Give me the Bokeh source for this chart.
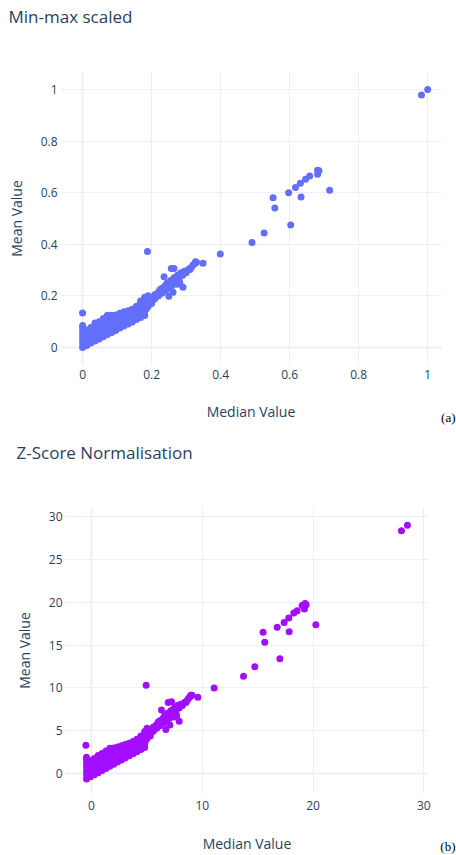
from bokeh.plotting import figure
from bokeh.models import Range1d, FixedTicker, Span, Title
from bokeh.embed import file_html
from bokeh.resources import INLINE

# ---------------- data: Min-max scaled ----------------
cluster_a_median = [
    0.0, 0.0, 0.0, 0.0, 0.0, 0.0, 0.0,
    0.012, 0.012, 0.012, 0.012, 0.012,
    0.024, 0.024, 0.024, 0.024, 0.024,
    0.036, 0.036, 0.036, 0.036, 0.036, 0.036,
    0.048, 0.048, 0.048, 0.048, 0.048, 0.048,
    0.060, 0.060, 0.060, 0.060, 0.060, 0.060,
    0.072, 0.072, 0.072, 0.072, 0.072, 0.072,
    0.084, 0.084, 0.084, 0.084, 0.084, 0.084,
    0.096, 0.096, 0.096, 0.096, 0.096,
    0.108, 0.108, 0.108, 0.108, 0.108,
    0.120, 0.120, 0.120, 0.120, 0.120,
    0.132, 0.132, 0.132, 0.132, 0.132,
    0.144, 0.144, 0.144, 0.144, 0.144,
    0.156, 0.156, 0.156, 0.156, 0.156,
    0.168, 0.168, 0.168, 0.168, 0.168, 0.168,
    0.180, 0.180, 0.180, 0.180, 0.180, 0.180,
]
cluster_a_mean = [
    0.000, 0.015, 0.030, 0.045, 0.060, 0.075, 0.085,
    0.008, 0.023, 0.038, 0.053, 0.068,
    0.017, 0.032, 0.047, 0.062, 0.077,
    0.025, 0.040, 0.055, 0.070, 0.085, 0.095,
    0.033, 0.048, 0.063, 0.078, 0.093, 0.100,
    0.041, 0.056, 0.071, 0.086, 0.101, 0.112,
    0.050, 0.065, 0.080, 0.095, 0.110, 0.125,
    0.058, 0.073, 0.088, 0.103, 0.118, 0.125,
    0.066, 0.081, 0.096, 0.111, 0.126,
    0.075, 0.090, 0.105, 0.120, 0.133,
    0.083, 0.098, 0.113, 0.128, 0.138,
    0.091, 0.106, 0.121, 0.136, 0.142,
    0.099, 0.114, 0.129, 0.144, 0.148,
    0.108, 0.123, 0.138, 0.153, 0.160,
    0.116, 0.131, 0.146, 0.161, 0.176, 0.180,
    0.124, 0.139, 0.154, 0.169, 0.184, 0.195,
]
streak_a_median = [
    0.19, 0.19, 0.2, 0.2, 0.205, 0.21, 0.21, 0.22, 0.22, 0.225,
    0.23, 0.23, 0.24, 0.24, 0.245, 0.25, 0.25, 0.255, 0.26, 0.26,
    0.265, 0.27, 0.27, 0.275, 0.28, 0.28, 0.285, 0.29, 0.295, 0.3,
    0.305, 0.31, 0.315, 0.32, 0.325, 0.33,
    0.236, 0.257, 0.265, 0.262, 0.25, 0.291, 0.311, 0.275, 0.282,
    0.185, 0.185, 0.19,
]
streak_a_mean = [
    0.16, 0.185, 0.17, 0.195, 0.185, 0.19, 0.205, 0.2, 0.215, 0.225,
    0.21, 0.23, 0.22, 0.24, 0.25, 0.23, 0.245, 0.26, 0.24, 0.255,
    0.27, 0.25, 0.265, 0.28, 0.26, 0.275, 0.29, 0.28, 0.295, 0.29,
    0.3, 0.305, 0.31, 0.32, 0.325, 0.33,
    0.274, 0.306, 0.306, 0.214, 0.199, 0.233, 0.302, 0.245, 0.25,
    0.15, 0.175, 0.2,
]
outlier_a_median = [1.0, 0.982, 0.716, 0.681, 0.685, 0.681, 0.658, 0.646, 0.631, 0.617, 0.597,
                    0.633, 0.552, 0.557, 0.603, 0.526, 0.491, 0.399, 0.349, 0.327, 0.188, 0.0]
outlier_a_mean = [1.0, 0.979, 0.61, 0.687, 0.685, 0.672, 0.665, 0.652, 0.637, 0.620, 0.6,
                  0.583, 0.58, 0.541, 0.475, 0.444, 0.407, 0.362, 0.326, 0.332, 0.372, 0.134]

# ---------------- data: Z-Score Normalisation ----------------
cluster_b_median = [
    -0.45, -0.45, -0.45, -0.45, -0.45, -0.45, -0.45,
    -0.10, -0.10, -0.10, -0.10, -0.10, -0.10,
    0.25, 0.25, 0.25, 0.25, 0.25, 0.25,
    0.60, 0.60, 0.60, 0.60, 0.60, 0.60,
    0.95, 0.95, 0.95, 0.95, 0.95, 0.95,
    1.30, 1.30, 1.30, 1.30, 1.30, 1.30,
    1.65, 1.65, 1.65, 1.65, 1.65, 1.65,
    2.00, 2.00, 2.00, 2.00, 2.00, 2.00,
    2.35, 2.35, 2.35, 2.35, 2.35,
    2.70, 2.70, 2.70, 2.70, 2.70,
    3.05, 3.05, 3.05, 3.05, 3.05,
    3.40, 3.40, 3.40, 3.40, 3.40,
    3.75, 3.75, 3.75, 3.75, 3.75,
    4.10, 4.10, 4.10, 4.10, 4.10,
    4.45, 4.45, 4.45, 4.45, 4.45,
    4.80, 4.80, 4.80, 4.80, 4.80,
]
cluster_b_mean = [
    -0.62, -0.17, 0.28, 0.73, 1.18, 1.63, 1.9,
    -0.38, 0.07, 0.52, 0.97, 1.42, 1.5,
    -0.13, 0.32, 0.77, 1.22, 1.67, 1.75,
    0.11, 0.56, 1.01, 1.46, 1.91, 2.1,
    0.36, 0.81, 1.26, 1.71, 2.16, 2.35,
    0.60, 1.05, 1.50, 1.95, 2.40, 2.65,
    0.85, 1.30, 1.75, 2.20, 2.65, 2.95,
    1.09, 1.54, 1.99, 2.44, 2.89, 3.0,
    1.34, 1.79, 2.24, 2.69, 3.1,
    1.58, 2.03, 2.48, 2.93, 3.25,
    1.83, 2.28, 2.73, 3.18, 3.4,
    2.07, 2.52, 2.97, 3.42, 3.55,
    2.32, 2.77, 3.22, 3.67, 3.75,
    2.56, 3.01, 3.46, 3.91, 4.0,
    2.81, 3.26, 3.71, 4.16, 4.4,
    3.05, 3.50, 3.95, 4.40, 4.9,
]
streak_b_median = [
    5.01, 5.01, 5.30, 5.30, 5.44, 5.59, 5.59, 5.88, 5.88, 6.02,
    6.17, 6.17, 6.46, 6.46, 6.60, 6.75, 6.75, 6.89, 7.04, 7.04,
    7.18, 7.33, 7.33, 7.47, 7.62, 7.62, 7.76, 7.91, 8.05, 8.20,
    8.34, 8.49, 8.63, 8.78, 8.92, 9.07,
    6.32, 6.92, 7.22, 7.07, 6.71, 7.91, 8.52, 7.47, 7.68,
    4.86, 4.86, 5.01,
]
streak_b_mean = [
    4.10, 4.84, 4.39, 5.13, 4.84, 4.98, 5.43, 5.28, 5.72, 6.02,
    5.58, 6.17, 5.87, 6.46, 6.76, 6.17, 6.61, 7.06, 6.46, 6.91,
    7.35, 6.76, 7.20, 7.65, 7.06, 7.50, 7.94, 7.65, 8.09, 7.94,
    8.24, 8.39, 8.54, 8.83, 8.98, 9.13,
    7.41, 8.30, 8.38, 5.68, 5.14, 6.10, 8.30, 6.61, 6.76,
    3.80, 4.54, 5.28,
]
outlier_b_median = [28.52, 27.98, 20.25, 19.28, 19.37, 19.22, 19.01, 18.56, 18.26, 17.81, 17.39,
                    17.84, 16.76, 15.49, 15.64, 17.0, 14.74, 13.72, 11.07, 9.6, 8.96, 4.93, -0.51]
outlier_b_mean = [28.96, 28.34, 17.37, 19.85, 19.69, 19.19, 19.61, 19.0, 18.73, 18.15, 17.64,
                  16.56, 17.07, 16.49, 15.33, 13.40, 12.47, 11.35, 10.0, 8.92, 9.15, 10.31, 3.32]

# ---------------- ticks / labels ----------------
a_x_ticks = [0, 0.2, 0.4, 0.6, 0.8, 1]
a_x_labels = ["0", "0.2", "0.4", "0.6", "0.8", "1"]
a_y_ticks = [0, 0.2, 0.4, 0.6, 0.8, 1]
a_y_labels = ["0", "0.2", "0.4", "0.6", "0.8", "1"]
b_x_ticks = [0, 10, 20, 30]
b_x_labels = ["0", "10", "20", "30"]
b_y_ticks = [0, 5, 10, 15, 20, 25, 30]
b_y_labels = ["0", "5", "10", "15", "20", "25", "30"]

FONT = "Open Sans"
TXT = "#2a3f5f"
GRID = "#EBF0F8"


def make_panel(xs, ys, color, x_rng, y_rng, xt, xl, yt, yl, height, borders,
               title, title_offset, title_standoff, spacer_standoff,
               tag, tag_offset, tag_standoff, x_standoff, x_label_standoff):
    bl, br, bb = borders
    p = figure(width=456, height=height, output_backend="svg", toolbar_location=None,
               x_range=Range1d(*x_rng), y_range=Range1d(*y_rng),
               min_border_left=bl, min_border_right=br, min_border_top=0, min_border_bottom=bb)
    p.outline_line_color = None
    p.background_fill_color = "white"
    p.border_fill_color = "white"

    p.xaxis.ticker = FixedTicker(ticks=xt)
    p.yaxis.ticker = FixedTicker(ticks=yt)
    p.xaxis.major_label_overrides = {t: l for t, l in zip(xt, xl)}
    p.yaxis.major_label_overrides = {t: l for t, l in zip(yt, yl)}
    for ax in (p.xaxis, p.yaxis):
        ax.axis_line_color = None
        ax.major_tick_line_color = None
        ax.minor_tick_line_color = None
        ax.major_tick_out = 0
        ax.major_tick_in = 0
        ax.major_label_text_font = FONT
        ax.major_label_text_font_size = "12px"
        ax.major_label_text_color = TXT
        ax.axis_label_text_font = FONT
        ax.axis_label_text_font_size = "14px"
        ax.axis_label_text_font_style = "normal"
        ax.axis_label_text_color = TXT
    p.xaxis.axis_label = "Median Value"
    p.yaxis.axis_label = "Mean Value"
    p.xaxis.major_label_standoff = x_standoff
    p.yaxis.major_label_standoff = 3
    p.xaxis.axis_label_standoff = x_label_standoff
    p.yaxis.axis_label_standoff = 12

    p.xgrid.grid_line_color = GRID
    p.ygrid.grid_line_color = GRID
    p.xgrid.grid_line_width = 1
    p.ygrid.grid_line_width = 1

    p.add_layout(Span(location=0, dimension="height", line_color=GRID, line_width=2, level="underlay"))
    p.add_layout(Span(location=0, dimension="width", line_color=GRID, line_width=2, level="underlay"))

    p.scatter(xs, ys, size=7, fill_color=color, line_color=None, fill_alpha=1)

    # spacer (nearest the frame) then the visible title above it
    p.add_layout(Title(text=" ", text_font=FONT, text_font_size="10px", standoff=spacer_standoff), "above")
    p.add_layout(Title(text=title, text_font=FONT, text_font_size="17px", text_font_style="normal",
                       text_color=TXT, align="left", offset=title_offset, standoff=title_standoff,
                       vertical_align="bottom"), "above")
    p.add_layout(Title(text=tag, text_font="Liberation Serif", text_font_size="13px",
                       text_font_style="normal", text_color="black", align="right",
                       offset=tag_offset, standoff=tag_standoff, vertical_align="top"), "below")
    return p


pa = make_panel(cluster_a_median + streak_a_median + outlier_a_median,
                cluster_a_mean + streak_a_mean + outlier_a_mean,
                "#636efa", (-0.064, 1.04), (-0.07, 1.07),
                a_x_ticks, a_x_labels, a_y_ticks, a_y_labels,
                428, (60, 15, 63), "Min-max scaled", -52, 4, 26, "(a)", -14, -28, 4, 20)

pb = make_panel(cluster_b_median + streak_b_median + outlier_b_median,
                cluster_b_mean + streak_b_mean + outlier_b_mean,
                "#a30eff", (-2.35, 30.42), (-2.32, 31.04),
                b_x_ticks, b_x_labels, b_y_ticks, b_y_labels,
                427, (65, 28, 60), "Z-Score Normalisation", -49, 20, 18, "(b)", -27, -34, 7, 21)

open("out.html", "w").write(file_html([pa, pb], INLINE))
